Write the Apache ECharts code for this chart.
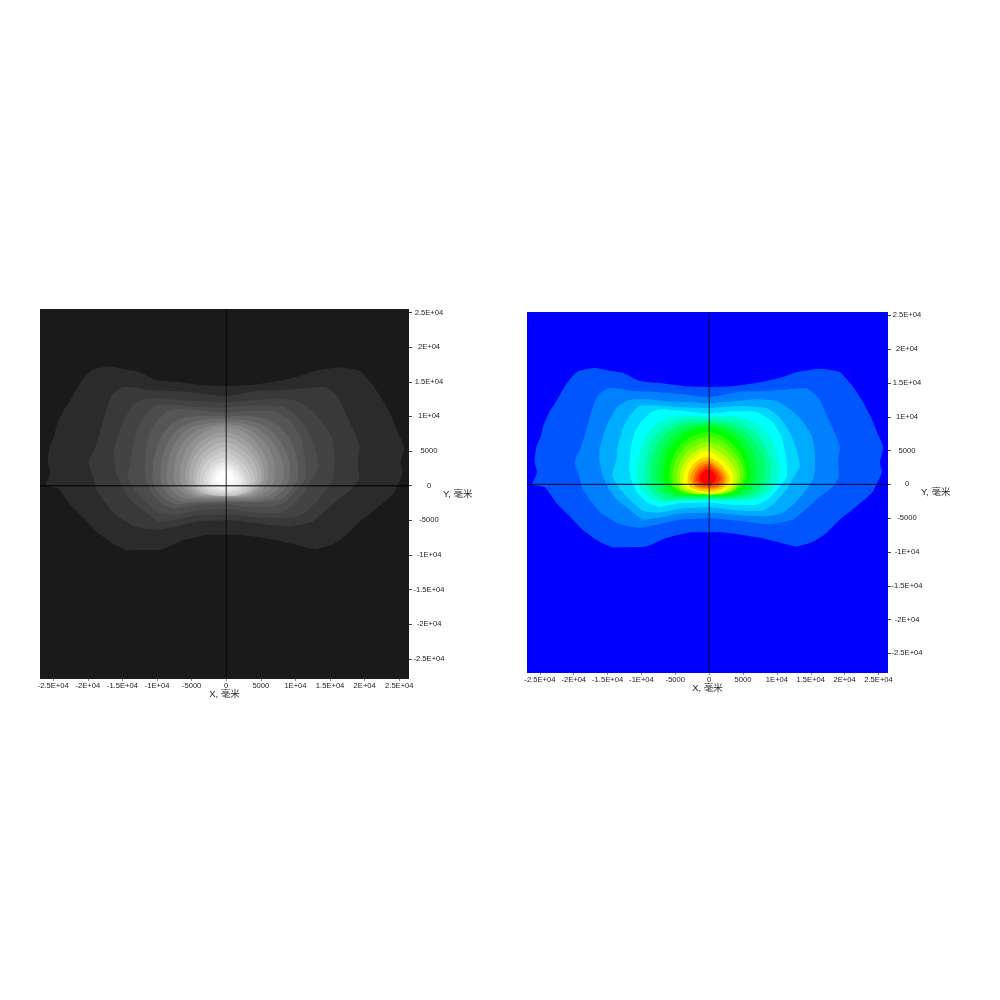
<!DOCTYPE html>
<html>
<head>
<meta charset="utf-8">
<style>html,body{margin:0;padding:0;background:#fff}#c{width:1000px;height:1000px}</style>
<script src="https://cdn.jsdelivr.net/npm/echarts@6/dist/echarts.min.js"></script>
</head>
<body>
<div id="c"></div>
<script>
// Contour outlines, in thousands of millimetres [x, y].
const contour1=[[-26.1,0],[-25.4,1.8],[-25.8,3.4],[-25.5,5.6],[-24.9,7],[-24.5,8.6],[-23.6,10.7],[-22.4,12.6],[-21.4,14.4],[-20.3,15.9],[-19.2,16.8],[-16.9,17.2],[-14.7,16.8],[-12.8,16.5],[-10.3,15.3],[-7.3,15],[-3.3,14.5],[0,14.4],[3.5,14.5],[7.5,15.1],[10.9,15.9],[12.9,16.6],[16.4,17.1],[19.3,16.6],[21.2,14.5],[22.7,12.2],[23.8,10.1],[24.8,7.7],[25.7,5.5],[25.2,3.3],[25.5,1.8],[24.2,-1],[23,-2.2],[21.2,-3.7],[19.3,-5.2],[17.4,-7.1],[15.3,-8.5],[12.9,-9.2],[10.4,-8.6],[7.5,-7.9],[4.5,-7.4],[2,-7.1],[0,-7.1],[-2.9,-7.1],[-6.3,-7.9],[-9.3,-9.2],[-12.2,-9.3],[-14.3,-9.3],[-16.2,-8.5],[-18.7,-6.7],[-20.6,-4.7],[-22.6,-2.7],[-24.3,-0.4]];
const contour2=[[-19.2,1.2],[-19.9,3.3],[-18.9,5.6],[-18.1,8.2],[-17.4,10.7],[-16.5,13.1],[-15,14.2],[-13.2,14.2],[-11.3,13.8],[-8.4,13.7],[-4.4,13.4],[0,12.9],[4.5,13.7],[8.5,13.8],[11.9,14.1],[14.4,14.2],[16.1,12.9],[17.4,10.1],[18.3,8.2],[19.3,5.6],[19,3.3],[19.2,1.2],[18.3,-0.3],[15.9,-2.2],[14.6,-3.4],[12.4,-5.2],[9,-5.9],[6,-5.6],[2.6,-5.2],[0,-5],[-4.4,-5.2],[-7.3,-5.9],[-10.3,-6.4],[-13.2,-5.9],[-16.2,-4],[-18.7,-0.7]];
const contour3=[[-15.9,1.8],[-16.2,3.7],[-16.2,5.2],[-15.5,7.7],[-14.7,9.6],[-13.5,11.6],[-11.8,12.5],[-9.2,12.6],[-6.3,12.3],[-3.3,12.2],[0,12],[3.5,12.3],[7,12.6],[10,12.3],[12.4,10.8],[13.8,9.3],[15.2,7.1],[15.6,4.7],[15.6,2.2],[15.3,0.7],[14.4,-0.7],[12.9,-2.5],[10.9,-4.2],[8.5,-4.7],[5,-4.6],[2,-4.3],[0,-4.2],[-4.4,-4.3],[-7.3,-4.9],[-9.8,-5.2],[-11.8,-3.7],[-13.7,-2.2],[-15,-0.3]];
const contour4=[[-14.3,1.2],[-13.7,3.7],[-13.5,5.6],[-12.8,8.2],[-11.8,10.1],[-10.3,11.6],[-7.8,11.7],[-4.8,11.4],[0,11.3],[4.5,11.6],[8.5,11.3],[10.4,9.9],[11.9,7.7],[12.9,5.2],[13.4,2.7],[12.4,1],[11.5,-0.7],[9.7,-2.7],[7.9,-3.9],[5,-3.9],[2,-3.6],[0,-3.4],[-4.4,-3.6],[-7.3,-4.2],[-9.8,-3.9],[-11.8,-2.2],[-13.2,-0.7]];
const contour5=[[-11.5,0.7],[-11.8,2.7],[-11.5,5.6],[-11,7.7],[-10,9.3],[-8.5,10.7],[-6.9,11.1],[-3.3,10.8],[0,10.5],[3.5,10.8],[7,10.7],[9.3,9.3],[10.7,7.1],[11.3,4.2],[11.5,1.2],[10.1,-0.7],[8.7,-2.2],[7,-3],[3.5,-3],[0,-2.7],[-4.4,-2.8],[-7.3,-3.3],[-9.1,-2.7],[-10.7,-1.2]];
const contour6=[[-10.7,1],[-10.5,3.5],[-10,5.6],[-9.2,7.4],[-7.8,9],[-5.8,9.9],[-3,10.1],[0,10],[3,10.1],[5.5,9.7],[7.6,8.6],[9,7],[9.9,5.2],[10.4,3],[10.3,1],[9.3,-0.8],[7.8,-2],[5,-2.4],[0,-2.4],[-4.5,-2.5],[-7.3,-2.7],[-9,-1.8],[-10.2,-0.5]];
const contour7=[[-9.5,1],[-9.4,3.2],[-9,5],[-8.2,6.7],[-7,8.1],[-5.2,9.1],[-2.8,9.6],[0,9.6],[2.8,9.5],[5,8.9],[6.8,7.7],[8,6.2],[8.8,4.5],[9.2,2.8],[9.1,1],[8.2,-0.7],[6.7,-1.8],[4,-2.2],[0,-2.2],[-4,-2.3],[-6.6,-2.3],[-8.2,-1.4],[-9.1,-0.3]];
const contour8=[[-8.6,1],[-8.5,3],[-8.1,4.7],[-7.4,6.2],[-6.3,7.6],[-4.6,8.6],[-2.4,9.1],[0,9.2],[2.4,9],[4.4,8.3],[6,7.2],[7.1,5.7],[7.9,4.2],[8.3,2.6],[8.2,1],[7.4,-0.6],[6,-1.5],[3.5,-2],[0,-2],[-3.5,-2],[-6,-1.9],[-7.6,-1],[-8.3,0]];
const contour9=[[-7.6,1],[-7.5,2.8],[-7.2,4.4],[-6.5,5.8],[-5.5,7.1],[-4,8.1],[-2,8.7],[0,8.9],[2,8.6],[3.8,7.8],[5.2,6.7],[6.2,5.3],[6.8,3.9],[7.1,2.4],[7,1],[6.3,-0.5],[5,-1.3],[3,-1.8],[0,-1.8],[-3,-1.8],[-5.2,-1.6],[-6.6,-0.8],[-7.3,0.1]];
const contour10=[[-6.7,1],[-6.6,2.5],[-6.3,4],[-5.7,5.3],[-4.8,6.5],[-3.4,7.6],[-1.7,8.3],[0,8.5],[1.8,8.1],[3.3,7.3],[4.5,6],[5.4,4.7],[5.9,3.4],[6.1,2],[6,0.9],[5.4,-0.4],[4.3,-1.2],[2.5,-1.6],[0,-1.6],[-2.6,-1.6],[-4.6,-1.4],[-5.9,-0.6],[-6.5,0.2]];
const contour11=[[-5.9,1],[-5.8,2.3],[-5.5,3.6],[-5,4.8],[-4.2,5.9],[-3,6.9],[-1.5,7.5],[0,7.7],[1.6,7.3],[2.9,6.5],[4,5.4],[4.8,4.2],[5.3,3],[5.5,1.8],[5.4,0.8],[4.8,-0.3],[3.8,-1.1],[2.2,-1.5],[0,-1.6],[-2.3,-1.5],[-4.1,-1.3],[-5.3,-0.5],[-5.8,0.3]];
const contour12=[[-5.4,1],[-5.3,2.2],[-5,3.4],[-4.5,4.4],[-3.7,5.4],[-2.6,6.3],[-1.3,6.9],[0,7],[1.4,6.6],[2.6,5.9],[3.6,4.9],[4.4,3.8],[4.9,2.7],[5.1,1.6],[5,0.7],[4.4,-0.3],[3.4,-1],[2,-1.4],[0,-1.5],[-2,-1.4],[-3.6,-1.2],[-4.8,-0.5],[-5.3,0.3]];
const contour13=[[-4.8,1],[-4.7,2],[-4.4,3],[-3.9,4],[-3.2,4.9],[-2.2,5.6],[-1,6.2],[0,6.2],[1.2,5.9],[2.3,5.2],[3.2,4.4],[4,3.4],[4.4,2.4],[4.6,1.5],[4.5,0.7],[4,-0.3],[3.1,-1],[1.7,-1.4],[0,-1.5],[-1.8,-1.4],[-3.2,-1.1],[-4.3,-0.5],[-4.7,0.3]];
const contour14=[[-4.3,1],[-4.2,1.9],[-3.9,2.8],[-3.4,3.6],[-2.7,4.4],[-1.8,5],[-0.8,5.5],[0.2,5.5],[1.2,5],[2.2,4.3],[3,3.4],[3.6,2.6],[4,1.7],[4.2,0.8],[3.6,-0.3],[2.7,-1],[1.4,-1.4],[0,-1.5],[-1.6,-1.4],[-2.9,-1.1],[-3.9,-0.5],[-4.3,0.3]];
const contour15=[[-3.8,1],[-3.6,2],[-3.2,2.9],[-2.6,3.7],[-1.7,4.4],[-0.6,4.9],[0.3,4.8],[1.2,4.2],[2.1,3.4],[2.9,2.6],[3.4,1.7],[3.6,0.7],[3.1,-0.3],[2.3,-0.9],[1.2,-1.2],[0,-1.3],[-1.4,-1.2],[-2.6,-0.9],[-3.4,-0.4],[-3.8,0.3]];
const contour16=[[-3.2,1],[-3,1.9],[-2.6,2.6],[-2,3.3],[-1.3,3.8],[-0.5,4],[0.3,3.9],[1,3.5],[1.8,2.9],[2.4,2.1],[2.9,1.3],[3,0.6],[2.6,-0.2],[1.9,-0.7],[1,-1],[0,-1.1],[-1.2,-1],[-2.2,-0.7],[-2.9,-0.3],[-3.2,0.4]];
const contour17=[[-2.8,1],[-2.6,1.7],[-2.2,2.4],[-1.7,2.9],[-1,3.3],[-0.3,3.5],[0.3,3.4],[0.9,3],[1.5,2.5],[2.1,1.8],[2.5,1.1],[2.5,0.5],[2.1,-0.1],[1.5,-0.5],[0.8,-0.7],[0,-0.8],[-1,-0.7],[-1.8,-0.5],[-2.4,-0.1],[-2.7,0.5]];
const contour18=[[-2.3,1],[-2.1,1.6],[-1.8,2.1],[-1.4,2.6],[-0.8,2.9],[-0.2,3.1],[0.3,3],[0.8,2.6],[1.3,2.2],[1.8,1.6],[2.1,1],[2.1,0.5],[1.7,0],[1.2,-0.3],[0.6,-0.5],[0,-0.5],[-0.8,-0.5],[-1.5,-0.3],[-2,0],[-2.3,0.5]];
const contour19=[[-1.9,1],[-1.7,1.5],[-1.4,1.9],[-1,2.3],[-0.5,2.6],[0,2.7],[0.4,2.5],[0.8,2.2],[1.2,1.8],[1.5,1.3],[1.7,0.8],[1.4,0.3],[1,0],[0.5,-0.2],[0,-0.2],[-0.6,-0.2],[-1.2,0],[-1.6,0.3],[-1.9,0.7]];
const contour20=[[-1.4,1],[-1.3,1.4],[-1,1.8],[-0.6,2.1],[-0.1,2.2],[0.4,2],[0.8,1.6],[1.1,1.1],[1,0.7],[0.6,0.3],[0,0.2],[-0.6,0.2],[-1.1,0.4],[-1.4,0.7]];
const contours=[contour1,contour2,contour3,contour4,contour5,contour6,contour7,contour8,contour9,contour10,contour11,contour12,contour13,contour14,contour15,contour16,contour17,contour18,contour19,contour20];

const greyColors=['#2b2b2b','#393939','#434343','#4c4c4c','#565656','#626262','#6e6e6e','#7a7a7a','#868686','#929292','#9e9e9e','#aaaaaa','#b6b6b6','#c2c2c2','#cecece','#dadada','#e4e4e4','#eeeeee','#f6f6f6','#ffffff'];
const rainbowColors=['#0055ff','#0080ff','#00aaff','#00d5ff','#00ffff','#00ffcc','#00ff99','#00ff66','#00ff33','#00ff00','#33ff00','#66ff00','#99ff00','#ccff00','#ffff00','#ffcc00','#ff9900','#ff6600','#ff3300','#ff0000'];

const tickValues=[-25000,-20000,-15000,-10000,-5000,0,5000,10000,15000,20000,25000];
const tickLabels=['-2.5E+04','-2E+04','-1.5E+04','-1E+04','-5000','0','5000','1E+04','1.5E+04','2E+04','2.5E+04'];
const xMin=-26900,xMax=26400,yMin=-27900,yMax=25500;
const crossV=[[0,yMin],[0,yMax]];
const crossH=[[xMin,0],[xMax,0]];
const FONT='"Liberation Sans", Arial, sans-serif';
const KILO=1000;

function fmt(v){const i=tickValues.indexOf(v);return i<0?'':tickLabels[i];}

function xAxis(idx,nameGap){
  return {type:'value',gridIndex:idx,position:'bottom',min:xMin,max:xMax,
    name:'X, 毫米',nameLocation:'middle',nameGap:nameGap,nameMoveOverlap:false,
    nameTextStyle:{fontFamily:'"Liberation Sans","Noto Sans CJK SC",sans-serif',fontSize:9.5,color:'#222'},
    axisLine:{show:false,onZero:false},splitLine:{show:false},
    axisTick:{show:true,length:2,lineStyle:{color:'#888',width:1},customValues:tickValues},
    axisLabel:{margin:3,fontSize:7.6,fontFamily:FONT,color:'#222',customValues:tickValues,formatter:fmt,hideOverlap:false}};
}
function yAxis(idx,labelMargin,nameGap){
  return {type:'value',gridIndex:idx,position:'right',min:yMin,max:yMax,
    name:'Y, 毫米',nameLocation:'middle',nameRotate:0,nameGap:nameGap,nameMoveOverlap:false,
    nameTextStyle:{fontFamily:'"Liberation Sans","Noto Sans CJK SC",sans-serif',fontSize:9.5,color:'#222',align:'left',verticalAlign:'middle'},
    axisLine:{show:false,onZero:false},splitLine:{show:false},
    axisTick:{show:true,length:3,lineStyle:{color:'#444',width:1},customValues:tickValues},
    axisLabel:{margin:labelMargin,align:'center',fontSize:7.6,fontFamily:FONT,color:'#222',customValues:tickValues,formatter:fmt,hideOverlap:false}};
}
function bands(idx,palette){
  return {type:'custom',coordinateSystem:'cartesian2d',xAxisIndex:idx,yAxisIndex:idx,silent:true,clip:true,
    data:contours.map((c,i)=>[i,0]),
    renderItem:function(params,api){
      const k=api.value(0);
      return {type:'polygon',
        shape:{points:contours[k].map(p=>api.coord([p[0]*KILO,p[1]*KILO])),smooth:0.15},
        style:{fill:palette[k],stroke:null}};
    }};
}
function cross(idx,data,color,width){
  return {type:'line',xAxisIndex:idx,yAxisIndex:idx,data:data,symbol:'none',silent:true,z:5,
    lineStyle:{color:color,width:width}};
}

const chart=echarts.init(document.getElementById('c'),null,{renderer:'canvas'});
chart.setOption({
  animation:false,backgroundColor:'#ffffff',
  grid:[
    {left:40,top:309,width:369,height:370,show:true,backgroundColor:'#1a1a1a',borderWidth:0},
    {left:527,top:312,width:361,height:361,show:true,backgroundColor:'#0000ff',borderWidth:0}
  ],
  xAxis:[xAxis(0,11),xAxis(1,11)],
  yAxis:[yAxis(0,20,34),yAxis(1,19,33)],
  series:[
    bands(0,greyColors),bands(1,rainbowColors),
    cross(0,crossV,'rgba(0,0,0,0.8)',1),cross(0,crossH,'rgba(0,0,0,0.7)',1.5),
    cross(1,crossV,'rgba(0,0,40,0.8)',1),cross(1,crossH,'rgba(0,0,40,0.8)',1.2)
  ]
});
</script>
</body>
</html>
